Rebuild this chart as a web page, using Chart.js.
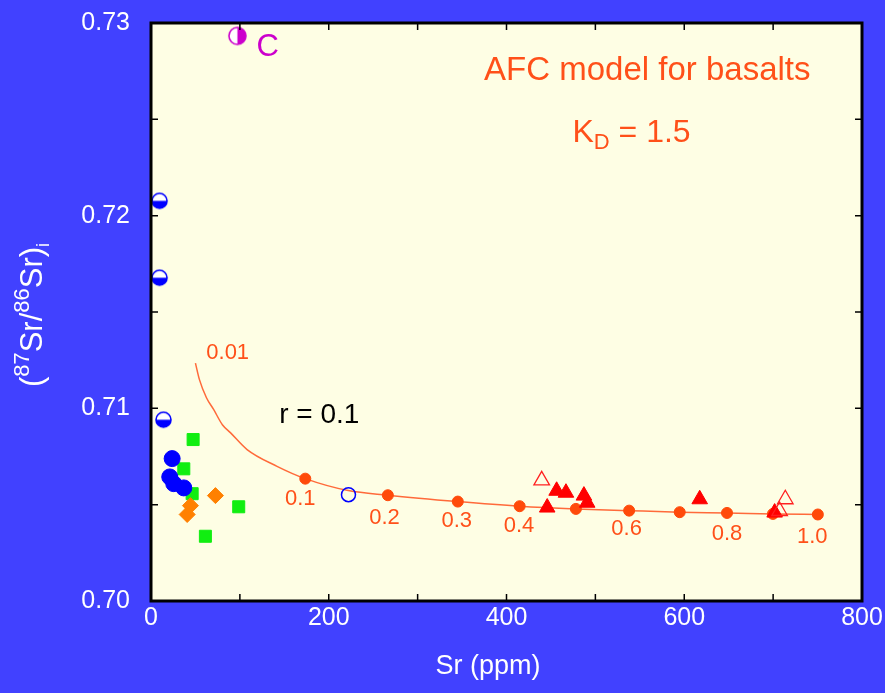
<!DOCTYPE html>
<html>
<head>
<meta charset="utf-8">
<script src="https://cdn.jsdelivr.net/npm/chart.js@4.4.1/dist/chart.umd.min.js"></script>
<style>
  html, body { margin: 0; padding: 0; background: #4141FF; }
  #wrap { width: 885px; height: 693px; }
</style>
</head>
<body>
<div id="wrap"><canvas id="myChart" width="885" height="693"></canvas></div>
<script>
// AFC model curve, r = 0.1, KD = 1.5 (Sr ppm vs 87Sr/86Sr)
const afcX = [50, 54.5, 62.4, 70.6, 80.3, 89.3, 108.1, 141.8, 173.6, 221.9, 266.5, 345.2, 414.8, 478.1, 538.0, 594.9, 648.1, 699.8, 750.3];
const afcY = [0.71235, 0.71149, 0.71055, 0.70993, 0.70915, 0.70874, 0.70786, 0.70699, 0.70635, 0.70573, 0.70549, 0.70516, 0.70492, 0.70478, 0.70469, 0.70461, 0.70457, 0.70452, 0.70449];

// dots on the curve (F = 0.1 ... 1.0)
const dotX = [173.6, 266.5, 345.2, 414.8, 478.1, 538.0, 594.9, 648.1, 699.8, 750.3];
const dotY = [0.70635, 0.70549, 0.70516, 0.70492, 0.70478, 0.70469, 0.70461, 0.70457, 0.70452, 0.70449];

// labels along the curve
const fLabels = ['0.01', '0.1', '0.2', '0.3', '0.4', '0.6', '0.8', '1.0'];
const fLabelX = [86.3, 168, 262.7, 344, 414, 535.1, 648.1, 744];
const fLabelY = [0.71287, 0.70532, 0.70431, 0.70414, 0.70392, 0.70374, 0.70350, 0.70333];

// samples
const blueX = [23.8, 21.1, 25.6, 36.9];
const blueY = [0.70739, 0.70644, 0.70609, 0.70587];
const blueHalfX = [9.6, 9.6, 14.0];
const blueHalfY = [0.72077, 0.71678, 0.70941];
const blueOpenX = [222.2];
const blueOpenY = [0.70552];
const crustX = [97.2];
const crustY = [0.72933];
const greenX = [47.4, 36.9, 46.3, 98.7, 61.2];
const greenY = [0.70838, 0.70686, 0.70557, 0.70489, 0.70336];
const orangeX = [72.5, 44.4, 40.7];
const orangeY = [0.70547, 0.70495, 0.70449];
const triX = [445.8, 456.4, 466.9, 487.1, 490.8, 617.4, 701.7];
const triY = [0.70485, 0.70572, 0.70562, 0.70547, 0.70510, 0.70528, 0.70459];
const triOpenX = [439.6, 713.7, 707.3];
const triOpenY = [0.70626, 0.70528, 0.70467];

const xTicks = [0, 200, 400, 600, 800];
const yTicks = [0.70, 0.71, 0.72, 0.73];

const FONT = 'Liberation Sans, Arial, sans-serif';
const ORANGE = '#FF5019';

function pts(xs, ys) {
  return xs.map((x, i) => ({x: x, y: ys[i]}));
}

// half filled circle marker
function halfDot(color, r, side) {
  const c = document.createElement('canvas');
  const s = Math.ceil(2 * r + 4);
  c.width = s; c.height = s;
  const g = c.getContext('2d');
  const m = s / 2;
  g.fillStyle = '#ffffff';
  g.beginPath(); g.arc(m, m, r, 0, Math.PI * 2); g.fill();
  g.fillStyle = color;
  g.beginPath();
  if (side === 'bottom') g.arc(m, m, r, 0, Math.PI);
  else g.arc(m, m, r, -Math.PI / 2, Math.PI / 2);
  g.closePath(); g.fill();
  g.strokeStyle = color; g.lineWidth = 1.6;
  g.beginPath(); g.arc(m, m, r, 0, Math.PI * 2); g.stroke();
  return c;
}

const decor = {
  id: 'decor',
  beforeDraw(chart) {
    const {ctx, chartArea: a} = chart;
    ctx.save();
    ctx.fillStyle = '#4141FF';
    ctx.fillRect(0, 0, chart.width, chart.height);
    ctx.fillStyle = '#FEFEE4';
    ctx.fillRect(a.left, a.top, a.right - a.left, a.bottom - a.top);
    ctx.restore();
  },
  afterDatasetsDraw(chart) {
    const {ctx, scales: {x, y}} = chart;
    ctx.save();
    ctx.textAlign = 'center';
    ctx.textBaseline = 'middle';
    // F labels
    ctx.fillStyle = ORANGE;
    ctx.font = '22px ' + FONT;
    fLabels.forEach((t, i) => {
      ctx.fillText(t, x.getPixelForValue(fLabelX[i]), y.getPixelForValue(fLabelY[i]));
    });
    ctx.fillStyle = '#CC00CC';
    ctx.font = '31px ' + FONT;
    ctx.fillText('C', x.getPixelForValue(131.2), y.getPixelForValue(0.72872));
    ctx.fillStyle = '#000000';
    ctx.font = '28px ' + FONT;
    ctx.fillText('r = 0.1', x.getPixelForValue(189.3), y.getPixelForValue(0.70962));
    ctx.fillStyle = ORANGE;
    ctx.font = '33px ' + FONT;
    ctx.fillText('AFC model for basalts', x.getPixelForValue(558.4), y.getPixelForValue(0.72751));
    // K_D = 1.5
    const kx = x.getPixelForValue(540.7), ky = y.getPixelForValue(0.72430);
    ctx.font = '32px ' + FONT;
    const wK = ctx.measureText('K').width, wR = ctx.measureText(' = 1.5').width;
    ctx.font = '22px ' + FONT;
    const wD = ctx.measureText('D').width;
    let sx = kx - (wK + wD + wR) / 2;
    ctx.textAlign = 'left';
    ctx.font = '32px ' + FONT;
    ctx.fillText('K', sx, ky);
    ctx.font = '22px ' + FONT;
    ctx.fillText('D', sx + wK, ky + 10);
    ctx.font = '32px ' + FONT;
    ctx.fillText(' = 1.5', sx + wK + wD, ky);
    ctx.restore();
  },
  afterDraw(chart) {
    const {ctx, chartArea: a, scales: {x, y}} = chart;
    ctx.save();
    // inward tick marks on all four sides
    ctx.strokeStyle = '#000';
    ctx.lineWidth = 1.5;
    ctx.beginPath();
    x.ticks.forEach(t => {
      const p = x.getPixelForValue(t.value);
      ctx.moveTo(p, a.bottom); ctx.lineTo(p, a.bottom - 7);
      ctx.moveTo(p, a.top); ctx.lineTo(p, a.top + 7);
    });
    y.ticks.forEach(t => {
      const p = y.getPixelForValue(t.value);
      ctx.moveTo(a.left, p); ctx.lineTo(a.left + 7, p);
      ctx.moveTo(a.right, p); ctx.lineTo(a.right - 7, p);
    });
    ctx.stroke();
    ctx.lineWidth = 3;
    ctx.strokeRect(a.left, a.top, a.right - a.left, a.bottom - a.top);

    // axis titles
    ctx.fillStyle = '#ffffff';
    ctx.textAlign = 'center';
    ctx.textBaseline = 'middle';
    ctx.font = '27px ' + FONT;
    ctx.fillText('Sr (ppm)', 488, 667);

    ctx.translate(42, 315);
    ctx.rotate(-Math.PI / 2);
    ctx.textBaseline = 'alphabetic';
    ctx.textAlign = 'left';
    const parts = [
      ['(', 31, 0], ['87', 22, -13], ['Sr/', 31, 0], ['86', 22, -13], ['Sr)', 31, 0], ['i', 18, 7]
    ];
    let total = 0;
    parts.forEach(p => { ctx.font = p[1] + 'px ' + FONT; total += ctx.measureText(p[0]).width; });
    let cx = -total / 2;
    parts.forEach(p => {
      ctx.font = p[1] + 'px ' + FONT;
      ctx.fillText(p[0], cx, p[2]);
      cx += ctx.measureText(p[0]).width;
    });
    ctx.restore();
  }
};

const data = {
  datasets: [
    {
      type: 'line', label: 'AFC', data: pts(afcX, afcY),
      borderColor: '#FF6A3A', borderWidth: 1.5, pointRadius: 0,
      cubicInterpolationMode: 'monotone', fill: false, order: 10
    },
    {
      label: 'F', data: pts(dotX, dotY), pointStyle: 'circle', pointRadius: 5.5,
      backgroundColor: '#FF4A0A', borderColor: '#FF4A0A', order: 9
    },
    {
      label: 'triangles', data: pts(triX, triY), pointStyle: 'triangle', pointRadius: 9,
      backgroundColor: '#FF0000', borderColor: '#FF0000', order: 8
    },
    {
      label: 'open triangles', data: pts(triOpenX, triOpenY), pointStyle: 'triangle', pointRadius: 9,
      backgroundColor: 'rgba(0,0,0,0)', borderColor: '#FF2020', borderWidth: 1.3, order: 7
    },
    {
      label: 'green', data: pts(greenX, greenY), pointStyle: 'rect', pointRadius: 8.5,
      backgroundColor: '#11EE11', borderColor: '#11EE11', order: 6
    },
    {
      label: 'orange', data: pts(orangeX, orangeY), pointStyle: 'rectRot', pointRadius: 8,
      backgroundColor: '#FF8000', borderColor: '#FF8000', order: 5
    },
    {
      label: 'blue', data: pts(blueX, blueY), pointStyle: 'circle', pointRadius: 8,
      backgroundColor: '#0000FF', borderColor: '#0000FF', order: 4
    },
    {
      label: 'blue half', data: pts(blueHalfX, blueHalfY), pointStyle: halfDot('#0000FF', 7.5, 'bottom'),
      order: 3
    },
    {
      label: 'blue open', data: pts(blueOpenX, blueOpenY), pointStyle: 'circle', pointRadius: 7,
      backgroundColor: 'rgba(0,0,0,0)', borderColor: '#0000FF', borderWidth: 1.5, order: 2
    },
    {
      label: 'C', data: pts(crustX, crustY), pointStyle: halfDot('#CC00CC', 8.5, 'right'),
      order: 1
    }
  ]
};

const config = {
  type: 'scatter',
  data,
  options: {
    responsive: false,
    animation: false,
    devicePixelRatio: 1,
    clip: false,
    layout: { padding: { top: 23, right: 23, left: 0, bottom: 0 } },
    plugins: { legend: { display: false }, tooltip: { enabled: false } },
    scales: {
      x: {
        type: 'linear', min: 0, max: 800,
        grid: { display: false }, border: { display: false },
        ticks: {
          stepSize: 100, autoSkip: false, maxRotation: 0, padding: -6,
          color: '#ffffff', font: { size: 25, family: FONT },
          callback: v => xTicks.includes(v) ? String(v) : ''
        },
        afterFit: s => { s.height = 92; }
      },
      y: {
        type: 'linear', min: 0.70, max: 0.73,
        grid: { display: false }, border: { display: false },
        ticks: {
          stepSize: 0.005, autoSkip: false, padding: 13,
          color: '#ffffff', font: { size: 25, family: FONT, lineHeight: 0.8 },
          callback: v => yTicks.some(t => Math.abs(t - v) < 1e-6) ? v.toFixed(2) : ''
        },
        afterFit: s => { s.width = 151; }
      }
    }
  },
  plugins: [decor]
};

const myChart = new Chart(document.getElementById('myChart').getContext('2d'), config);
</script>
</body>
</html>
